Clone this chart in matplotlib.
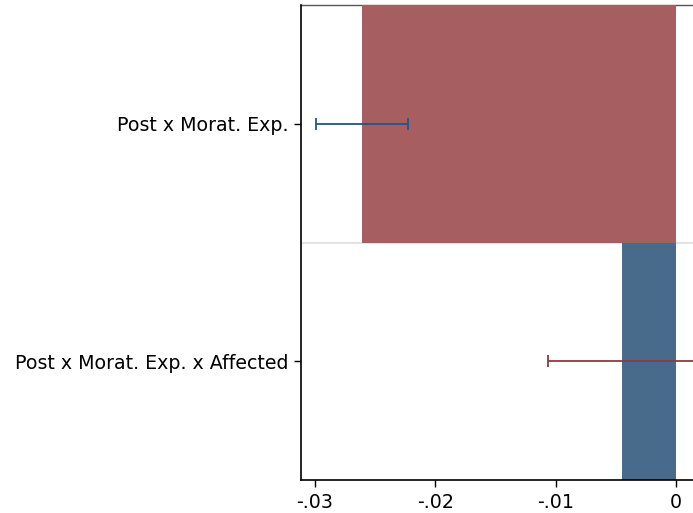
import matplotlib
matplotlib.use("Agg")
import matplotlib.pyplot as plt

labels = ["Post x Morat. Exp. x Affected", "Post x Morat. Exp."]
bar_values = [-0.0045, -0.0261]
ci_low = [-0.0106, -0.0299]
ci_high = [0.0035, -0.0223]
tick_values = [-0.03, -0.02, -0.01, 0.0]
tick_labels = ["-.03", "-.02", "-.01", "0"]

bar_colors = ["#486a8b", "#a65e61"]
ci_colors = ["#8e3a42", "#22558a"]


def main() -> None:
    fig = plt.figure(figsize=(6.93, 5.13), dpi=100)
    ax = fig.add_axes([301 / 693, 33 / 513, 400 / 693, 475 / 513])
    positions = list(range(len(labels)))

    ax.axhline(0.5, color="#dddddd", linewidth=1.2, zorder=0)
    ax.barh(positions, bar_values, height=1.0, color=bar_colors, zorder=2)
    for pos, lo, hi, col in zip(positions, ci_low, ci_high, ci_colors):
        mid = (lo + hi) / 2
        ax.errorbar(mid, pos, xerr=[[mid - lo], [hi - mid]], fmt="none",
                    ecolor=col, elinewidth=1.3, capsize=4, capthick=1.3, zorder=3)

    ax.set_ylim(-0.5, 1.5)
    ax.set_xlim(-0.03117, -0.03 + 385 / 120 * 0.01)
    ax.set_yticks(positions)
    ax.set_yticklabels(labels, fontsize=13.7)
    ax.set_xticks(tick_values)
    ax.set_xticklabels(tick_labels, fontsize=13.7)
    ax.tick_params(axis="both", length=5, width=1, colors="black", pad=4)

    for side in ("left", "bottom"):
        ax.spines[side].set_linewidth(1.2)
        ax.spines[side].set_color("black")
    ax.spines["top"].set_color("#555555")
    ax.spines["top"].set_linewidth(1.0)
    ax.spines["top"].set_zorder(1)

    fig.savefig("out.png", dpi=100)
    plt.close(fig)


if __name__ == "__main__":
    main()
